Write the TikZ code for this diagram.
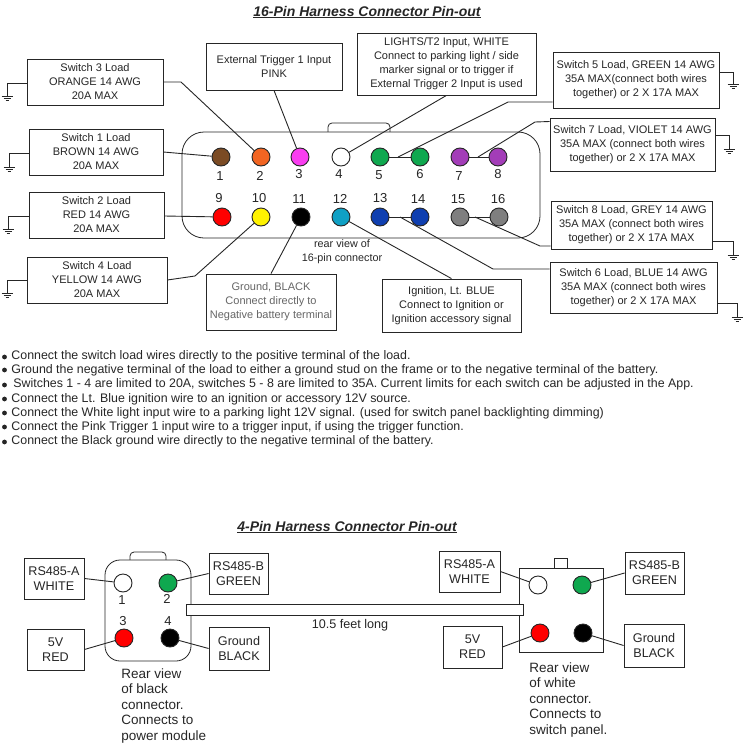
\documentclass[tikz,border=0pt]{standalone}
\usepackage{fontspec}
\setmainfont{Liberation Sans}
\begin{document}
\begin{tikzpicture}[x=1pt,y=-1pt,line width=0.9pt,color=black!85]
  \tikzstyle{label box}=[draw,thick,fill=white,align=center,inner sep=0pt,font=\fontsize{11}{14}\selectfont]
  \tikzstyle{pin}=[draw,circle,minimum size=18pt,inner sep=0pt]
  \tikzstyle{pin no}=[inner sep=0pt,font=\fontsize{13}{14}\selectfont]
  \tikzstyle{shell}=[draw,thick,fill=white]
  \tikzstyle{pin list}=[anchor=north west,align=left,inner sep=0pt,font=\fontsize{12.4}{14.2}\selectfont]
  \tikzstyle{heading}=[inner sep=0pt,font=\fontsize{14}{14}\bfseries\itshape\selectfont]
  \tikzset{earth/.pic={\draw (-5.5,0) -- (5.5,0); \draw (-3.5,2) -- (3.5,2); \draw (-1.5,4) -- (1.5,4);}}
  \definecolor{wbrown}{HTML}{7B4B24}
  \definecolor{worange}{HTML}{F26522}
  \definecolor{wpink}{HTML}{F93DF0}
  \definecolor{wgreen}{HTML}{0FA84F}
  \definecolor{wviolet}{HTML}{A33DB8}
  \definecolor{wteal}{HTML}{0FA0C4}
  \definecolor{wblue}{HTML}{0F3FB0}
  \definecolor{wgrey}{HTML}{7F7F7F}
  \useasboundingbox (0,0) rectangle (749,755);

  \node[heading] (title16) at (367,12)  {\underline{16-Pin Harness Connector Pin-out}};
  \node[heading] (title4)  at (347,527) {\underline{4-Pin Harness Connector Pin-out}};

  \draw[shell,rounded corners=4pt] (328,132) -- (328,123) -- (390,123) -- (390,132);
  \node[shell,rounded corners=22pt,minimum width=358pt,minimum height=106pt] (shell16) at (361,185) {};

  \foreach \n/\x/\c/\m/\y in {1/221/wbrown/220/176, 2/261/worange/260/176, 3/300/wpink/299/174, 4/341/white/339/174,
                              5/380/wgreen/379/175, 6/420/wgreen/420/174, 7/460/wviolet/459/176, 8/498/wviolet/498/174}
    {
      \node[pin,fill=\c] (p\n) at (\x,157) {};
      \node[pin no] (n\n) at (\m,\y) {\n};
    }
  \foreach \n/\x/\c/\m/\y in {9/222/red/219/198, 10/261/yellow/259/198, 11/301/black/299/199, 12/341/wteal/340/199,
                              13/380/wblue/380/198, 14/420/wblue/418/199, 15/460/wgrey/458/199, 16/499/wgrey/498/199}
    {
      \node[pin,fill=\c] (p\n) at (\x,217) {};
      \node[pin no] (n\n) at (\m,\y) {\n};
    }

  \node[inner sep=0pt,align=center,font=\fontsize{10.8}{14}\selectfont] (rear16) at (342,252) {rear view of\\16-pin connector};

  \node[label box,minimum width=136pt,minimum height=46pt]  (sw3)  at (95,82)    {Switch 3 Load\\ORANGE 14 AWG\\20A MAX};
  \node[label box,minimum width=134pt,minimum height=46pt]  (sw1)  at (96,152)   {Switch 1 Load\\BROWN 14 AWG\\20A MAX};
  \node[label box,minimum width=135pt,minimum height=46pt]  (sw2)  at (96.5,215) {Switch 2 Load\\RED 14 AWG\\20A MAX};
  \node[label box,minimum width=140pt,minimum height=46pt]  (sw4)  at (97,280)   {Switch 4 Load\\YELLOW 14 AWG\\20A MAX};
  \node[label box,minimum width=136pt,minimum height=47pt]  (trig) at (274,66.5) {External Trigger 1 Input\\PINK};
  \node[label box,minimum width=130pt,minimum height=56pt,text=black!60] (gnd) at (271,302) {Ground, BLACK\\Connect directly to\\Negative battery terminal};
  \node[label box,minimum width=179pt,minimum height=62pt] (lights) at (446.5,64) {LIGHTS/T2 Input, WHITE\\Connect to parking light / side\\marker signal or to trigger if\\External Trigger 2 Input is used};
  \node[label box,minimum width=166pt,minimum height=56pt] (sw5)  at (636,80)    {Switch 5 Load, GREEN 14 AWG\\35A MAX(connect both wires\\together) or 2 X 17A MAX};
  \node[label box,minimum width=165pt,minimum height=53pt] (sw7)  at (632.5,144.5) {Switch 7 Load, VIOLET 14 AWG\\35A MAX (connect both wires\\together) or 2 X 17A MAX};
  \node[label box,minimum width=161pt,minimum height=48pt] (sw8)  at (631.5,225) {Switch 8 Load, GREY 14 AWG\\35A MAX (connect both wires\\together) or 2 X 17A MAX};
  \node[label box,minimum width=167pt,minimum height=51pt] (sw6)  at (633.5,287.5) {Switch 6 Load, BLUE 14 AWG\\35A MAX  (connect both wires\\together) or 2 X 17A MAX};
  \node[label box,minimum width=139pt,minimum height=53pt] (ign)  at (451.5,305.5) {Ignition, Lt. BLUE\\Connect to Ignition or\\Ignition accessory signal};

  \coordinate (g3) at (7,96);
  \coordinate (g1) at (9,167);
  \coordinate (g2) at (8,229);
  \coordinate (g4) at (7,293);
  \coordinate (g5) at (733,84);
  \coordinate (g7) at (729,149);
  \coordinate (g8) at (733,255);
  \coordinate (g6) at (737,317);

  \draw (g3) |- ([yshift=-1pt]sw3.west);
  \draw (g1) |- ([yshift=-1pt]sw1.west);
  \draw (g2) |- ([yshift=-1pt]sw2.west);
  \draw (g4) |- (sw4.west);
  \draw (g5) |- ([yshift=8pt]sw5.east);
  \draw (g7) |- ([yshift=9.5pt]sw7.east);
  \draw (g8) |- ([yshift=-16pt]sw8.east);
  \draw (g6) |- ([yshift=-15.5pt]sw6.east);
  \foreach \g in {g1,g2,g3,g4,g5,g6,g7,g8}
    \pic at (\g) {earth};

  \draw (sw3.east) -- (181,82) -- (p2);
  \draw (sw1.east) -- (p1);
  \draw ([yshift=-1pt]sw2.east) -- (p9);
  \draw (sw4.east) -- (195,276) -- (p10);
  \draw (trig.south) -- (p3);
  \draw (gnd.north) -- (p11);
  \draw (lights.south) -- (p4);
  \draw (p5) -- (p6);
  \draw (p7) -- (p8);
  \draw (p13) -- (p14);
  \draw (p15) -- (p16);
  \draw ([yshift=-22pt]sw5.west) -- (508,102) -- (398,157);
  \draw ([yshift=23pt]sw7.west) -- (535,122) -- (478,157);
  \draw ([yshift=-21pt]sw8.west) -- (540,246) -- (475,217);
  \draw ([yshift=18.5pt]sw6.west) -- (493,269) -- (400,217);
  \draw (ign.north) -- (p12);

  \foreach \y in {357,370,385,399,413,427,442}
    \fill (4.5,\y) circle (2.4);
  \node[pin list] (notes) at (11,350) {%
    Connect the switch load wires directly to the positive terminal of the load.\\
    Ground the negative terminal of the load to either a ground stud on the frame or to the negative terminal of the battery.\\
    \hspace{2pt}Switches 1 - 4 are limited to 20A, switches 5 - 8 are limited to 35A. Current limits for each switch can be adjusted in the App.\\
    Connect the Lt. Blue ignition wire to an ignition or accessory 12V source.\\
    Connect the White light input wire to a parking light 12V signal. (used for switch panel backlighting dimming)\\
    Connect the Pink Trigger 1 input wire to a trigger input, if using the trigger function.\\
    Connect the Black ground wire directly to the negative terminal of the battery.};

  \draw[shell,rounded corners=4pt] (130,560) -- (130,552) -- (166,552) -- (166,560);
  \node[shell,rounded corners=15pt,minimum width=86pt,minimum height=101pt] (shellL) at (148,610.5) {};
  \draw[shell] (554,568) rectangle (567,558);
  \node[shell,minimum width=84pt,minimum height=84pt] (shellR) at (561,610) {};
  \node[shell,minimum width=337pt,minimum height=11pt] (cable) at (354.5,609.5) {};
  \node[inner sep=0pt,font=\fontsize{12.6}{14}\selectfont] (cablelen) at (350,625) {10.5 feet long};

  \foreach \n/\x/\y/\c in {a1/123/583/white, a2/168/583/wgreen, a3/124/638/red, a4/170/638/black,
                           b1/538/585/white, b2/582/585/wgreen, b3/540/633/red, b4/583/633/black}
    \node[pin,fill=\c] (\n) at (\x,\y) {};
  \foreach \n/\x/\y in {1/122/600, 2/167/599, 3/123/621, 4/168/621}
    \node[inner sep=0pt,font=\fontsize{13}{14}\selectfont] (m\n) at (\x,\y) {\n};

  \tikzstyle{small box}=[draw,thick,fill=white,align=center,inner sep=0pt,font=\fontsize{12.6}{15}\selectfont]
  \node[small box,minimum width=60pt,minimum height=41pt] (la) at (54,578.5)   {RS485-A\\WHITE};
  \node[small box,minimum width=59pt,minimum height=41pt] (lb) at (238.5,573.5) {RS485-B\\GREEN};
  \node[small box,minimum width=57pt,minimum height=41pt] (lc) at (55.5,649.5) {5V\\RED};
  \node[small box,minimum width=60pt,minimum height=43pt] (ld) at (239,648.5)  {Ground\\BLACK};
  \node[small box,minimum width=61pt,minimum height=41pt] (ra) at (469.5,571.5) {RS485-A\\WHITE};
  \node[small box,minimum width=59pt,minimum height=42pt] (rb) at (654.5,573)  {RS485-B\\GREEN};
  \node[small box,minimum width=59pt,minimum height=42pt] (rc) at (472.5,647)  {5V\\RED};
  \node[small box,minimum width=60pt,minimum height=43pt] (rd) at (654,645.5)  {Ground\\BLACK};

  \draw (la.east) -- (a1);
  \draw (lb.west) -- (a2);
  \draw (lc.east) -- (a3);
  \draw (ld.west) -- (a4);
  \draw (ra.east) -- (b1);
  \draw (rb.west) -- (b2);
  \draw (rc.east) -- (b3);
  \draw (rd.west) -- (b4);

  \tikzstyle{view note}=[anchor=north west,align=left,inner sep=0pt,font=\fontsize{13.5}{15.5}\selectfont]
  \node[view note] (viewL) at (121,668) {Rear view\\of black\\connector.\\Connects to\\power module};
  \node[view note] (viewR) at (529,662) {Rear view\\of white\\connector.\\Connects to\\switch panel.};
\end{tikzpicture}
\end{document}
